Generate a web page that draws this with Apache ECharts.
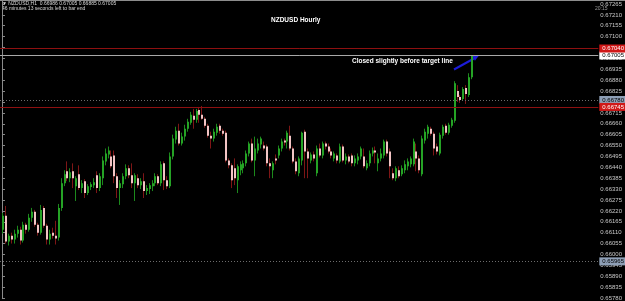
<!DOCTYPE html>
<html>
<head>
<meta charset="utf-8">
<script src="https://cdn.jsdelivr.net/npm/echarts@6/dist/echarts.min.js"></script>
<style>
  html, body { margin: 0; padding: 0; background: #000; }
  #main { width: 625px; height: 301px; }
</style>
</head>
<body>
<div id="main"></div>
<script>
// NZDUSD H1 candles: [open, close, low, high]
var candles = [
  [0.66125, 0.66195, 0.66105, 0.66210], [0.66195, 0.66065, 0.66055, 0.66245], [0.66065, 0.66095, 0.66045, 0.66105],
  [0.66095, 0.66075, 0.66055, 0.66110], [0.66075, 0.66105, 0.66055, 0.66125], [0.66105, 0.66125, 0.66085, 0.66145],
  [0.66125, 0.66070, 0.66050, 0.66140], [0.66070, 0.66150, 0.66060, 0.66165], [0.66150, 0.66125, 0.66105, 0.66160],
  [0.66125, 0.66185, 0.66115, 0.66205], [0.66185, 0.66215, 0.66165, 0.66235], [0.66215, 0.66150, 0.66140, 0.66225],
  [0.66150, 0.66110, 0.66095, 0.66160], [0.66110, 0.66225, 0.66100, 0.66250], [0.66235, 0.66145, 0.66135, 0.66245],
  [0.66145, 0.66075, 0.66050, 0.66155], [0.66075, 0.66105, 0.66050, 0.66125], [0.66110, 0.66095, 0.66080, 0.66135],
  [0.66095, 0.66080, 0.66050, 0.66170], [0.66085, 0.66235, 0.66070, 0.66255], [0.66235, 0.66360, 0.66220, 0.66385],
  [0.66360, 0.66405, 0.66345, 0.66425], [0.66420, 0.66385, 0.66370, 0.66470], [0.66385, 0.66415, 0.66365, 0.66435],
  [0.66420, 0.66385, 0.66335, 0.66460], [0.66345, 0.66385, 0.66270, 0.66395], [0.66405, 0.66335, 0.66325, 0.66450],
  [0.66335, 0.66360, 0.66310, 0.66375], [0.66370, 0.66310, 0.66285, 0.66380], [0.66310, 0.66345, 0.66300, 0.66355],
  [0.66340, 0.66355, 0.66325, 0.66365], [0.66350, 0.66365, 0.66335, 0.66385], [0.66400, 0.66335, 0.66310, 0.66420],
  [0.66335, 0.66395, 0.66320, 0.66410], [0.66385, 0.66475, 0.66350, 0.66495], [0.66470, 0.66510, 0.66450, 0.66535],
  [0.66505, 0.66525, 0.66485, 0.66545], [0.66495, 0.66445, 0.66435, 0.66525], [0.66500, 0.66395, 0.66360, 0.66525],
  [0.66395, 0.66335, 0.66285, 0.66410], [0.66335, 0.66360, 0.66250, 0.66375], [0.66355, 0.66395, 0.66335, 0.66410],
  [0.66395, 0.66435, 0.66380, 0.66455], [0.66435, 0.66400, 0.66385, 0.66450], [0.66400, 0.66360, 0.66335, 0.66460],
  [0.66360, 0.66400, 0.66270, 0.66410], [0.66385, 0.66350, 0.66335, 0.66405], [0.66350, 0.66370, 0.66330, 0.66385],
  [0.66370, 0.66320, 0.66285, 0.66410], [0.66320, 0.66335, 0.66300, 0.66350], [0.66330, 0.66350, 0.66305, 0.66360],
  [0.66345, 0.66360, 0.66320, 0.66375], [0.66360, 0.66395, 0.66345, 0.66410], [0.66395, 0.66360, 0.66350, 0.66405],
  [0.66360, 0.66455, 0.66345, 0.66470], [0.66460, 0.66375, 0.66325, 0.66470], [0.66375, 0.66345, 0.66330, 0.66395],
  [0.66345, 0.66495, 0.66335, 0.66515], [0.66495, 0.66585, 0.66480, 0.66605], [0.66580, 0.66625, 0.66560, 0.66645],
  [0.66625, 0.66560, 0.66550, 0.66660], [0.66560, 0.66595, 0.66550, 0.66615], [0.66595, 0.66635, 0.66575, 0.66655],
  [0.66635, 0.66670, 0.66620, 0.66685], [0.66665, 0.66705, 0.66655, 0.66720], [0.66700, 0.66680, 0.66635, 0.66735],
  [0.66680, 0.66725, 0.66665, 0.66735], [0.66730, 0.66705, 0.66665, 0.66745], [0.66705, 0.66685, 0.66680, 0.66750],
  [0.66685, 0.66650, 0.66640, 0.66695], [0.66650, 0.66600, 0.66590, 0.66660], [0.66600, 0.66585, 0.66535, 0.66620],
  [0.66585, 0.66620, 0.66570, 0.66635], [0.66615, 0.66645, 0.66600, 0.66660], [0.66650, 0.66625, 0.66610, 0.66660],
  [0.66625, 0.66610, 0.66600, 0.66635], [0.66615, 0.66475, 0.66465, 0.66625], [0.66475, 0.66450, 0.66435, 0.66485],
  [0.66450, 0.66375, 0.66335, 0.66460], [0.66435, 0.66385, 0.66350, 0.66485], [0.66375, 0.66445, 0.66310, 0.66455],
  [0.66425, 0.66455, 0.66400, 0.66470], [0.66435, 0.66460, 0.66410, 0.66475], [0.66460, 0.66510, 0.66445, 0.66525],
  [0.66510, 0.66560, 0.66495, 0.66570], [0.66560, 0.66475, 0.66465, 0.66585], [0.66475, 0.66535, 0.66395, 0.66595],
  [0.66525, 0.66560, 0.66510, 0.66585], [0.66555, 0.66585, 0.66535, 0.66595], [0.66550, 0.66535, 0.66525, 0.66570],
  [0.66545, 0.66460, 0.66445, 0.66555], [0.66460, 0.66445, 0.66385, 0.66485], [0.66425, 0.66460, 0.66385, 0.66470],
  [0.66485, 0.66475, 0.66455, 0.66505], [0.66500, 0.66535, 0.66485, 0.66550], [0.66535, 0.66570, 0.66520, 0.66585],
  [0.66575, 0.66565, 0.66550, 0.66585], [0.66570, 0.66615, 0.66535, 0.66625], [0.66600, 0.66535, 0.66525, 0.66650],
  [0.66535, 0.66470, 0.66460, 0.66545], [0.66470, 0.66420, 0.66405, 0.66485], [0.66410, 0.66485, 0.66395, 0.66495],
  [0.66475, 0.66615, 0.66450, 0.66620], [0.66620, 0.66520, 0.66385, 0.66630], [0.66520, 0.66485, 0.66385, 0.66535],
  [0.66475, 0.66505, 0.66460, 0.66515], [0.66505, 0.66485, 0.66470, 0.66520], [0.66410, 0.66535, 0.66395, 0.66550],
  [0.66535, 0.66500, 0.66490, 0.66560], [0.66500, 0.66560, 0.66485, 0.66570], [0.66560, 0.66545, 0.66530, 0.66570],
  [0.66545, 0.66520, 0.66510, 0.66560], [0.66520, 0.66500, 0.66485, 0.66535], [0.66485, 0.66510, 0.66470, 0.66520],
  [0.66500, 0.66475, 0.66460, 0.66510], [0.66470, 0.66545, 0.66460, 0.66560], [0.66545, 0.66475, 0.66465, 0.66555],
  [0.66475, 0.66495, 0.66455, 0.66510], [0.66495, 0.66470, 0.66460, 0.66505], [0.66500, 0.66460, 0.66445, 0.66510],
  [0.66460, 0.66485, 0.66445, 0.66500], [0.66475, 0.66495, 0.66455, 0.66510], [0.66495, 0.66535, 0.66480, 0.66545],
  [0.66495, 0.66445, 0.66435, 0.66535], [0.66435, 0.66460, 0.66425, 0.66475], [0.66460, 0.66510, 0.66445, 0.66525],
  [0.66510, 0.66525, 0.66495, 0.66540], [0.66525, 0.66515, 0.66460, 0.66545], [0.66460, 0.66485, 0.66420, 0.66510],
  [0.66485, 0.66510, 0.66470, 0.66535], [0.66500, 0.66570, 0.66485, 0.66580], [0.66570, 0.66510, 0.66495, 0.66580],
  [0.66520, 0.66445, 0.66385, 0.66535], [0.66410, 0.66385, 0.66375, 0.66435], [0.66385, 0.66435, 0.66370, 0.66445],
  [0.66425, 0.66395, 0.66385, 0.66445], [0.66405, 0.66435, 0.66395, 0.66450], [0.66425, 0.66455, 0.66410, 0.66475],
  [0.66445, 0.66470, 0.66425, 0.66485], [0.66455, 0.66485, 0.66440, 0.66495], [0.66455, 0.66570, 0.66445, 0.66585],
  [0.66520, 0.66485, 0.66420, 0.66560], [0.66485, 0.66425, 0.66410, 0.66500], [0.66405, 0.66585, 0.66395, 0.66600],
  [0.66575, 0.66620, 0.66560, 0.66635], [0.66610, 0.66645, 0.66585, 0.66655], [0.66635, 0.66610, 0.66600, 0.66645],
  [0.66610, 0.66535, 0.66500, 0.66620], [0.66545, 0.66520, 0.66505, 0.66560], [0.66510, 0.66605, 0.66500, 0.66615],
  [0.66600, 0.66645, 0.66585, 0.66655], [0.66650, 0.66615, 0.66605, 0.66660], [0.66615, 0.66655, 0.66605, 0.66665],
  [0.66650, 0.66680, 0.66640, 0.66690], [0.66675, 0.66865, 0.66665, 0.66875], [0.66825, 0.66795, 0.66770, 0.66855],
  [0.66795, 0.66780, 0.66765, 0.66805], [0.66785, 0.66835, 0.66775, 0.66845], [0.66840, 0.66810, 0.66760, 0.66855],
  [0.66805, 0.66895, 0.66795, 0.66915], [0.66895, 0.67005, 0.66885, 0.67005]
];

// horizontal levels
var targetLines = [0.67040, 0.66745];   // red lines
var bidLine = 0.67005;                  // current price
var dottedLines = [0.66780, 0.65965];   // dotted levels

// price scale
var yMin = 0.6578;
var yMax = 0.67285;
var yStep = 0.00055;

var myChart = echarts.init(document.getElementById("main"));

var seriesData = candles.map(function (c, i) {
  return [i, c[0], c[1], c[2], c[3]];
});

function renderCandle(params, api) {
  var i = api.value(0);
  var o = api.coord([i, api.value(1)]);
  var c = api.coord([i, api.value(2)]);
  var lo = api.coord([i, api.value(3)]);
  var hi = api.coord([i, api.value(4)]);
  var xi = Math.round(o[0]);
  var up = api.value(2) >= api.value(1);
  var top = Math.min(o[1], c[1]);
  var bot = Math.max(o[1], c[1]);
  return {
    type: "group",
    children: [
      {
        type: "line",
        shape: { x1: xi + 0.5, y1: hi[1], x2: xi + 0.5, y2: lo[1] },
        style: { stroke: up ? "#1c8a1c" : "#7e1616", lineWidth: 1 }
      },
      {
        type: "rect",
        shape: { x: xi, y: top, width: 2, height: Math.max(1, bot - top) },
        style: { fill: up ? "#25a325" : "#f2c4c4" }
      }
    ]
  };
}

function tag(bg, fg) {
  return {
    show: true,
    position: "end",
    distance: 1,
    formatter: function (p) { return Number(p.value).toFixed(5); },
    fontSize: 6,
    fontFamily: "Liberation Sans",
    color: fg,
    backgroundColor: bg,
    padding: [1, 2, 1, 3]
  };
}

var lines = [];
dottedLines.forEach(function (v) {
  lines.push({ yAxis: v, lineStyle: { color: "#6c6c6c", type: [1, 2], width: 1 }, label: tag("#8e9fb6", "#000000") });
});
lines.push({ yAxis: bidLine, lineStyle: { color: "#a8a8a8", type: "solid", width: 1 }, label: tag("#ffffff", "#000000") });
targetLines.forEach(function (v) {
  lines.push({ yAxis: v, lineStyle: { color: "#8e1010", type: "solid", width: 1 }, label: tag("#d01818", "#ffffff") });
});

var option = {
  backgroundColor: "#000000",
  animation: false,
  grid: { left: 0, right: 13, top: 0, bottom: 0 },
  xAxis: {
    type: "value",
    min: -0.667,
    max: 203.333,
    show: false
  },
  yAxis: {
    type: "value",
    position: "right",
    min: yMin,
    max: yMax,
    interval: yStep,
    scale: true,
    splitLine: { show: false },
    axisLine: { show: true, lineStyle: { color: "#8a8a8a", width: 1 } },
    axisTick: { show: true, length: 3, lineStyle: { color: "#8a8a8a" } },
    axisLabel: {
      fontSize: 6,
      fontFamily: "Liberation Sans",
      color: "#c8c8c8",
      margin: 2,
      formatter: function (v) { return v.toFixed(5); }
    }
  },
  graphic: [
    { type: "rect", left: 0, top: 0, shape: { width: 625, height: 1 }, style: { fill: "#8c8c8c" } },
    {
      type: "text", left: 2, top: 1,
      style: { text: "\u25BC NZDUSD,H1  0.66986 0.67005 0.66885 0.67005", fill: "#d8d8d8", fontSize: 5, fontFamily: "Liberation Sans" }
    },
    {
      type: "text", left: 2, top: 6,
      style: { text: "46 minutes 13 seconds left to bar end", fill: "#d8d8d8", fontSize: 5, fontFamily: "Liberation Sans" }
    },
    {
      type: "text", left: 595, top: 6,
      style: { text: "20:15", fill: "#9a9a9a", fontSize: 5, fontFamily: "Liberation Sans" }
    },
    {
      type: "text", left: 271, top: 17,
      style: { text: "NZDUSD Hourly", fill: "#ffffff", fontSize: 6.5, fontWeight: "bold", fontFamily: "Liberation Sans" }
    },
    {
      type: "text", left: 352, top: 58,
      style: { text: "Closed slightly before target line", fill: "#ffffff", fontSize: 6.5, fontWeight: "bold", fontFamily: "Liberation Sans" }
    },
    {
      type: "line",
      shape: { x1: 454, y1: 69.5, x2: 474, y2: 58.5 },
      style: { stroke: "#1c1cd8", lineWidth: 2 }
    },
    {
      type: "polygon",
      shape: { points: [[479, 55.5], [474.9, 60.8], [472.3, 56.0]] },
      style: { fill: "#1c1cd8" }
    }
  ],
  series: [
    {
      type: "custom",
      renderItem: renderCandle,
      encode: { x: 0, y: [1, 2, 3, 4] },
      data: seriesData,
      clip: true,
      z: 3
    },
    {
      type: "line",
      data: [],
      silent: true,
      z: 2,
      markLine: {
        silent: true,
        precision: 5,
        symbol: ["none", "none"],
        animation: false,
        data: lines
      }
    }
  ]
};

myChart.setOption(option);
</script>
</body>
</html>
